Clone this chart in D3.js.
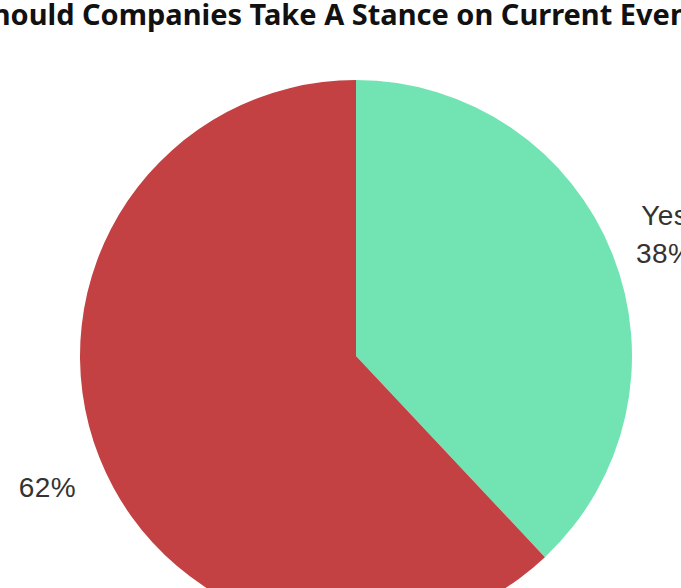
<!DOCTYPE html>
<html>
<head>
<meta charset="utf-8">
<script src="https://cdn.jsdelivr.net/npm/d3@7.9.0/dist/d3.min.js"></script>
<style>
  html, body { margin: 0; padding: 0; background: #fff; overflow: hidden; }
  svg { display: block; }
  .title { font-family: "Noto Sans", sans-serif; font-weight: 700; fill: #111; }
  .lbl { font-family: "Liberation Sans", Arial, sans-serif; fill: #333; letter-spacing: 0.4px; }
</style>
</head>
<body>
<svg id="chart" width="681" height="588"></svg>
<script>
/* --------------------------------- Data ---------------------------------- */
const titleText = "Should Companies Take A Stance on Current Events?";
const answers = ["Yes", "No"];
const shares = [38, 62];
const sliceColors = ["#72e4b3", "#c34142"];
// slice labels as shown (the "No" name is not drawn in the picture)
const labelLines = [["Yes", "38%"], ["62%"]];

/* -------------------------------- Layout --------------------------------- */
const W = 681, H = 588;
const cx = 356, cy = 356, R = 276;

const svg = d3.select("#chart");

// title runs past both edges in the reference: fit "Companies" .. "Events" into view
const title = svg.append("text")
  .attr("class", "title")
  .attr("x", 0)
  .attr("y", 25)
  .attr("font-size", 28)
  .text(titleText);

(function fitTitle() {
  const node = title.node();
  const iC = titleText.indexOf("Companies");
  const iE = titleText.indexOf("Events");
  const span = node.getStartPositionOfChar(iE).x - node.getStartPositionOfChar(iC).x;
  const size = 28 * 538 / span;
  title.attr("font-size", size);
  const startC = node.getStartPositionOfChar(iC).x;
  title.attr("x", 82 - startC);
})();

const data = answers.map((a, i) => ({ label: a, value: shares[i], color: sliceColors[i], lines: labelLines[i] }));

const pie = d3.pie().sort(null).value(d => d.value);
const arc = d3.arc().innerRadius(0).outerRadius(R);
const arcs = pie(data);

const g = svg.append("g").attr("transform", `translate(${cx},${cy})`);

g.selectAll("path.slice")
  .data(arcs)
  .enter()
  .append("path")
  .attr("class", "slice")
  .attr("d", arc)
  .attr("fill", d => d.data.color);

// labels outside the pie, a little beyond the rim
const labelArc = d3.arc().innerRadius(R + 56).outerRadius(R + 56);
const lineH = 38;

const labels = g.selectAll("text.lbl")
  .data(arcs)
  .enter()
  .append("text")
  .attr("class", "lbl")
  .attr("font-size", 28)
  .attr("text-anchor", "middle")
  .attr("transform", d => {
    const [x, y] = labelArc.centroid(d);
    return `translate(${x},${y})`;
  });

labels.each(function (d) {
  const lines = d.data.lines;
  const t = d3.select(this);
  // single-line label sits lower than its mid-angle in the reference
  const shift = lines.length === 1 ? 9 : 0;
  lines.forEach((s, i) => {
    t.append("tspan")
      .attr("x", 0)
      .attr("y", (i - (lines.length - 1) / 2) * lineH + 10 + shift)
      .text(s);
  });
});
</script>
</body>
</html>
